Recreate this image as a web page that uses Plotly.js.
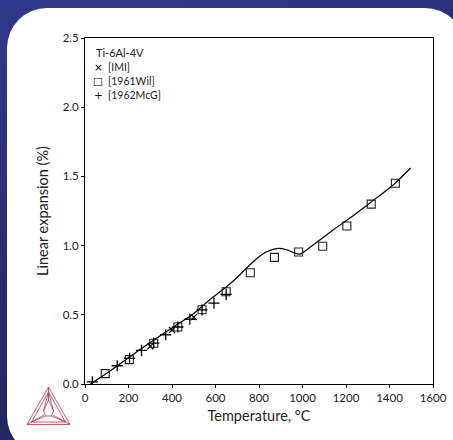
<!DOCTYPE html>
<html>
<head>
<meta charset="utf-8">
<script src="https://cdn.plot.ly/plotly-3.0.1.min.js"></script>
<style>
  html, body { margin: 0; padding: 0; }
  body { width: 453px; height: 440px; overflow: hidden; position: relative;
         background: linear-gradient(160deg, #2f3a8c 0%, #252c6e 50%, #1d2459 100%); }
  #panel { position: absolute; left: 7px; top: 8px; width: 458px; height: 448px;
           background: #ffffff; border-radius: 40px; }
  #chart { position: absolute; left: 0; top: 0; width: 453px; height: 440px; }
  #logo { position: absolute; left: 24px; top: 384px; width: 50px; height: 44px; }
</style>
</head>
<body>
<div id="panel"></div>
<div id="chart"></div>
<svg id="logo" viewBox="0 0 50 44" xmlns="http://www.w3.org/2000/svg">
  <g fill="none" stroke="#c0334c" stroke-width="0.8">
    <polygon points="24.5,3 3,40.5 46,40.5"/>
    <polygon points="24.5,8 7.5,38 41.5,38"/>
    <line x1="24.5" y1="3" x2="24.5" y2="16"/>
    <line x1="3" y1="40.5" x2="20" y2="31"/>
    <line x1="46" y1="40.5" x2="29" y2="31"/>
    <polygon points="24.5,16 19.5,27 21.5,32 27.5,32 29.5,27"/>
    <line x1="24.5" y1="8" x2="19.5" y2="27"/>
    <line x1="24.5" y1="8" x2="29.5" y2="27"/>
    <line x1="7.5" y1="38" x2="21.5" y2="32"/>
    <line x1="41.5" y1="38" x2="27.5" y2="32"/>
  </g>
</svg>
<script>
// Calculated curve (Ti-6Al-4V linear expansion)
const curveT = [25, 100, 200, 300, 400, 500, 582, 644, 697, 743, 789, 835, 889, 927, 958, 987, 1050, 1142, 1218, 1310, 1418, 1497];
const curveV = [0.0, 0.077, 0.19, 0.30, 0.405, 0.51, 0.62, 0.694, 0.766, 0.838, 0.905, 0.955, 0.980, 0.970, 0.950, 0.938, 1.006, 1.115, 1.199, 1.308, 1.440, 1.561];

// [IMI]
const imiT = [300, 400, 500];
const imiV = [0.272, 0.39, 0.483];

// [1961Wil]
const wilT = [93, 204, 316, 427, 538, 649, 760, 871, 982, 1093, 1204, 1316, 1427];
const wilV = [0.075, 0.176, 0.294, 0.412, 0.537, 0.667, 0.804, 0.915, 0.954, 0.995, 1.142, 1.30, 1.45];

// [1962McG]
const mcgT = [34, 148, 205, 260, 316, 371, 427, 482, 538, 593, 649];
const mcgV = [0.015, 0.132, 0.185, 0.243, 0.296, 0.356, 0.412, 0.468, 0.535, 0.585, 0.648];

const xTicks = [0, 200, 400, 600, 800, 1000, 1200, 1400, 1600];
const yTicks = [0, 0.5, 1.0, 1.5, 2.0, 2.5];
const yTickLabels = ['0.0', '0.5', '1.0', '1.5', '2.0', '2.5'];

const legendTitle = 'Ti-6Al-4V';
const legendNames = ['[IMI]', '[1961Wil]', '[1962McG]'];
const legendGlyphs = ['×', '□', '+'];

const FONT = 'Lato, "Open Sans", sans-serif';

const traces = [
  { x: curveT, y: curveV, type: 'scatter', mode: 'lines', name: 'Calculated',
    line: { color: '#000', width: 1.2, shape: 'spline', smoothing: 0.8 }, hoverinfo: 'skip' },
  { x: wilT, y: wilV, type: 'scatter', mode: 'markers', name: legendNames[1],
    marker: { symbol: 'square-open', size: 8, color: '#222', line: { width: 1.1 } } },
  { x: mcgT, y: mcgV, type: 'scatter', mode: 'markers', name: legendNames[2],
    marker: { symbol: 'cross-thin-open', size: 8, color: '#000', line: { width: 1.3 } } },
  { x: imiT, y: imiV, type: 'scatter', mode: 'markers', name: legendNames[0],
    marker: { symbol: 'x-thin-open', size: 6, color: '#000', line: { width: 1.2 } } }
];

const rowsY = [0.915, 0.8745, 0.834];
const annotations = [
  { xref: 'paper', yref: 'paper', x: 0.029, y: 0.9595, xanchor: 'left', yanchor: 'middle', borderpad: 0,
    text: legendTitle, showarrow: false, font: { family: FONT, size: 11, color: '#222' } }
];
for (let i = 0; i < legendNames.length; i++) {
  annotations.push({ xref: 'paper', yref: 'paper', x: 0.0374, y: rowsY[i], xanchor: 'center', yanchor: 'middle',
    borderpad: 0, text: legendGlyphs[i], showarrow: false,
    font: { family: 'DejaVu Sans, sans-serif', size: 10.5, color: '#000' } });
  annotations.push({ xref: 'paper', yref: 'paper', x: 0.064, y: rowsY[i], xanchor: 'left', yanchor: 'middle',
    borderpad: 0, text: legendNames[i], showarrow: false, font: { family: FONT, size: 10.5, color: '#222' } });
}

const layout = {
  width: 453, height: 440,
  margin: { l: 85, r: 20, t: 38, b: 56 },
  paper_bgcolor: 'rgba(0,0,0,0)',
  plot_bgcolor: '#ffffff',
  showlegend: false,
  font: { family: FONT, color: '#222' },
  xaxis: {
    range: [0, 1600], tickvals: xTicks, ticktext: xTicks.map(String),
    showline: true, linecolor: '#000', linewidth: 1, mirror: true,
    ticks: 'outside', ticklen: 3, tickcolor: '#000', showgrid: false, zeroline: false,
    tickfont: { family: FONT, size: 11.5, color: '#222' },
    title: { text: 'Temperature, °C', font: { family: FONT, size: 14.5, color: '#222' }, standoff: 8 }
  },
  yaxis: {
    range: [0, 2.5], tickvals: yTicks, ticktext: yTickLabels,
    showline: true, linecolor: '#000', linewidth: 1, mirror: true,
    ticks: 'outside', ticklen: 3, tickcolor: '#000', showgrid: false, zeroline: false,
    tickfont: { family: FONT, size: 11.5, color: '#222' },
    title: { text: 'Linear expansion (%)', font: { family: FONT, size: 14.5, color: '#222' }, standoff: 10 }
  },
  annotations: annotations
};

Plotly.newPlot('chart', traces, layout, { displayModeBar: false, staticPlot: true });
</script>
</body>
</html>
